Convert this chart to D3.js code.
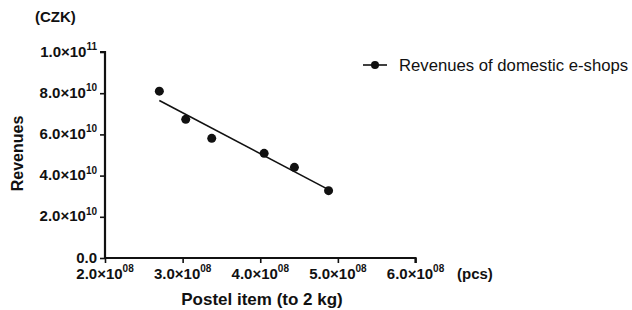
<!DOCTYPE html>
<html>
<head>
<meta charset="utf-8">
<script src="https://cdn.jsdelivr.net/npm/d3@7"></script>
<style>
  html, body { margin: 0; padding: 0; background: #fff; }
  svg { display: block; font-family: "Liberation Sans", Arial, sans-serif; }
</style>
</head>
<body>
<svg id="chart" width="632" height="310"></svg>
<script>
// ---- data ----
const postalItems = [2.70e8, 3.04e8, 3.375e8, 4.05e8, 4.44e8, 4.88e8];
const revenues    = [8.1e10, 6.73e10, 5.81e10, 5.08e10, 4.40e10, 3.27e10];
const seriesName  = "Revenues of domestic e-shops";
const xTicks      = [2e8, 3e8, 4e8, 5e8, 6e8];
const xTickMant   = ["2.0", "3.0", "4.0", "5.0", "6.0"];
const xTickExp    = ["08", "08", "08", "08", "08"];
const yTicks      = [0, 2e10, 4e10, 6e10, 8e10, 1e11];
const yTickMant   = ["0.0", "2.0", "4.0", "6.0", "8.0", "1.0"];
const yTickExp    = ["", "10", "10", "10", "10", "11"];
const xTitle = "Postel item (to 2 kg)";
const yTitle = "Revenues";
const xUnit = "(pcs)";
const yUnit = "(CZK)";

// ---- layout ----
const svg = d3.select("#chart");
const ink = "#111";
const x = d3.scaleLinear().domain([2e8, 6e8]).range([105, 415.5]);
const y = d3.scaleLinear().domain([0, 1e11]).range([258, 52]);

// axes
const xAxis = svg.append("g").attr("transform", `translate(0,${y(0)})`)
  .call(d3.axisBottom(x).tickValues(xTicks).tickSize(5).tickFormat(""));
const yAxis = svg.append("g").attr("transform", `translate(${x(2e8)},0)`)
  .call(d3.axisLeft(y).tickValues(yTicks).tickSize(5).tickFormat(""));
[xAxis, yAxis].forEach(g => {
  g.select(".domain").attr("stroke", ink).attr("stroke-width", 2.2);
  g.selectAll(".tick line").attr("stroke", ink).attr("stroke-width", 1.6);
});
xAxis.select(".domain").attr("d", `M${x(2e8)},0H${x(6e8)}V5`);
yAxis.select(".domain").attr("d", `M0,${y(0)+1}V${y(1e11)}H-5`);

// tick labels
function label(g, m, e, anchor) {
  const t = g.append("text").attr("text-anchor", anchor)
    .attr("font-weight", "bold").attr("font-size", 15).attr("fill", ink);
  t.append("tspan").text(e ? m + "\u00d710" : m);
  if (e) t.append("tspan").attr("font-size", 10).attr("dy", -6.5).text(e);
  return t;
}
xTicks.forEach((v, i) => {
  const g = svg.append("g").attr("transform", `translate(${x(v)},278.5)`);
  label(g, xTickMant[i], xTickExp[i], "middle");
});
yTicks.forEach((v, i) => {
  const g = svg.append("g").attr("transform", `translate(97,${y(v) + 4.5})`);
  label(g, yTickMant[i], yTickExp[i], "end");
});

// titles
svg.append("text").attr("x", 35).attr("y", 22).attr("font-weight", "bold")
  .attr("font-size", 15).attr("fill", ink).text(yUnit);
svg.append("text").attr("x", 457).attr("y", 279).attr("font-weight", "bold")
  .attr("font-size", 15).attr("fill", ink).text(xUnit);
svg.append("text").attr("transform", "translate(23,153.5) rotate(-90)")
  .attr("text-anchor", "middle").attr("font-weight", "bold")
  .attr("font-size", 16).attr("fill", ink).text(yTitle);
svg.append("text").attr("x", 262).attr("y", 305).attr("text-anchor", "middle")
  .attr("font-weight", "bold").attr("font-size", 17).attr("fill", ink).text(xTitle);

// linear regression fit
const mx = d3.mean(postalItems), my = d3.mean(revenues);
const sxy = d3.sum(postalItems, (v, i) => (v - mx) * (revenues[i] - my));
const sxx = d3.sum(postalItems, v => (v - mx) ** 2);
const slope = sxy / sxx, icpt = my - slope * mx;
const xExt = d3.extent(postalItems);
svg.append("path")
  .attr("d", d3.line().x(d => x(d)).y(d => y(icpt + slope * d))(xExt))
  .attr("stroke", ink).attr("stroke-width", 1.6).attr("fill", "none");

// points
svg.selectAll("circle.pt").data(postalItems).join("circle").attr("class", "pt")
  .attr("cx", d => x(d)).attr("cy", (d, i) => y(revenues[i]))
  .attr("r", 4.5).attr("fill", ink);

// legend
const lg = svg.append("g").attr("transform", "translate(363,65)");
lg.append("line").attr("x1", 0).attr("x2", 24).attr("stroke", ink).attr("stroke-width", 1.6);
lg.append("circle").attr("cx", 12).attr("r", 4).attr("fill", ink);
lg.append("text").attr("x", 36).attr("y", 5.8).attr("font-size", 16.7)
  .attr("fill", ink).text(seriesName);
</script>
</body>
</html>
